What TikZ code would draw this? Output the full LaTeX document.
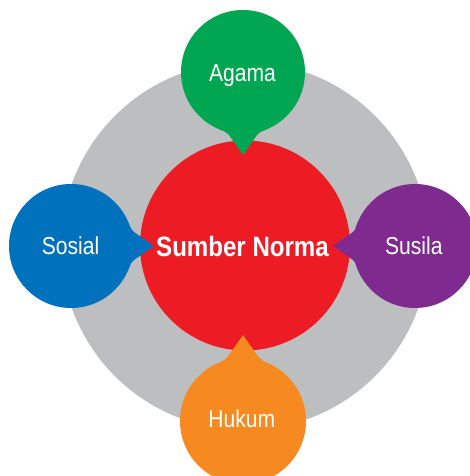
\documentclass[tikz,border=0pt]{standalone}
\usepackage{fontspec}
\newfontfamily\lblfont[FakeStretch=0.86]{Liberation Sans}
\definecolor{ringgray}{HTML}{BCBEC0}
\definecolor{normared}{HTML}{ED1C24}
\definecolor{agamagreen}{HTML}{00A651}
\definecolor{sosialblue}{HTML}{0071BC}
\definecolor{susilapurple}{HTML}{7F2A8E}
\definecolor{hukumorange}{HTML}{F6891F}
\newcommand\bubblepointer[4]{%
  \fill[#4, shift={#1}, rotate=#2]
    (24:62) .. controls (58.2,21.6) and ({#3-23.3},16.3) .. ({#3-20},14)
    -- (#3,0) -- ({#3-20},-14)
    .. controls ({#3-23.3},-16.3) and (58.2,-21.6) .. (-24:62) -- (0,0) -- cycle;}
\begin{document}
\begin{tikzpicture}[x=1pt,y=1pt,
  disc/.style={circle, inner sep=0pt, minimum size=#1},
  lbl/.style={text=white, anchor=base, inner sep=0pt, font=\lblfont\fontsize{24.5}{28}\selectfont},
  mainlbl/.style={text=white, anchor=base, inner sep=0pt, font=\lblfont\bfseries\fontsize{28}{32}\selectfont}]
\clip (0,0) rectangle (470,476);
\node[disc=368pt, fill=ringgray] (ring) at (245,230) {};
\node[disc=210pt, fill=normared] (core) at (245,230.5) {};
% Agama
\node[disc=124pt, fill=agamagreen] (agama) at (243,404) {};
\bubblepointer{(agama.center)}{-90}{83}{agamagreen}
% Sosial
\node[disc=124pt, fill=sosialblue] (sosial) at (71,230) {};
\bubblepointer{(sosial.center)}{0}{83}{sosialblue}
% Susila
\node[disc=124pt, fill=susilapurple] (susila) at (415,230) {};
\bubblepointer{(susila.center)}{180}{82}{susilapurple}
% Hukum
\node[disc=126pt, fill=hukumorange] (hukum) at (243,55) {};
\bubblepointer{(hukum.center)}{90}{86}{hukumorange}
% labels
\node[lbl] (tagama) at (242.5,394.3) {Agama};
\node[lbl] (tsosial) at (70.5,221) {Sosial};
\node[lbl] (tsusila) at (413.8,221) {Susila};
\node[lbl] (thukum) at (241.7,48.7) {Hukum};
\node[mainlbl] (tcore) at (242.5,219.3) {Sumber Norma};
\end{tikzpicture}
\end{document}
